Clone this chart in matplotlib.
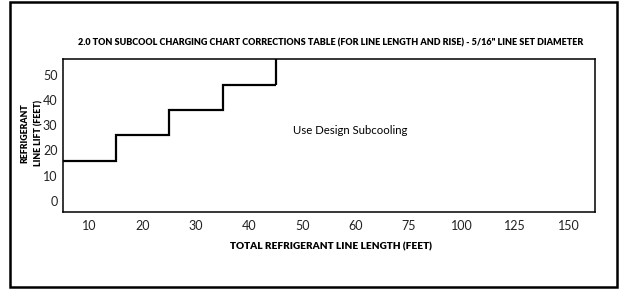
import matplotlib
matplotlib.use("Agg")
import matplotlib.pyplot as plt
from matplotlib.patches import Rectangle
import numpy as np

plt.rcParams['font.family'] = ['Lato', 'DejaVu Sans']

length_labels = ['10', '20', '30', '40', '50', '60', '75', '100', '125', '150']
lift_ticks = [0, 10, 20, 30, 40, 50]
# maximum lift per line length where correction applies (step boundary)
step_lengths = ['10', '20', '30', '40']
step_lifts = [16, 26, 36, 46]

title = '2.0 TON SUBCOOL CHARGING CHART CORRECTIONS TABLE (FOR LINE LENGTH AND RISE) - 5/16" LINE SET DIAMETER'

fig = plt.figure(figsize=(6.2, 2.89), dpi=100)
fig.patch.set_facecolor('white')
ax = fig.add_axes([63/620, 1 - 212/289, 532/620, 153/289])

ymin, ymax = -4.4, 56.3
x = np.arange(len(length_labels))
idx = [length_labels.index(s) for s in step_lengths]
edges = [i - 0.5 for i in idx] + [idx[-1] + 0.5]
ax.stairs(step_lifts, edges, baseline=None, color='black', lw=1.6)
ax.plot([edges[-1], edges[-1]], [step_lifts[-1], ymax], color='black', lw=1.6,
        solid_capstyle='butt')

ax.set_xlim(-0.5, len(length_labels) - 0.5)
ax.set_ylim(ymin, ymax)
ax.set_xticks(x)
ax.set_xticklabels(length_labels)
ax.set_yticks(lift_ticks)
ax.tick_params(length=0, labelsize=9, pad=6, colors='#222222')
ax.tick_params(axis='y', pad=4)
for s in ax.spines.values():
    s.set_linewidth(1.1)

ax.text(4.9, 27.8, 'Use Design Subcooling', ha='center', va='center', fontsize=8.2)

fig.text(331/620, 1 - 247/289, 'TOTAL REFRIGERANT LINE LENGTH (FEET)', ha='center', va='center',
         fontsize=7.2, fontweight='heavy')
fig.text(32/620, 1 - 133/289, 'REFRIGERANT\nLINE LIFT (FEET)', ha='center', va='center',
         rotation=90, fontsize=6.3, fontweight='heavy', linespacing=1.6)
fig.text(331/620, 1 - 43/289, title, ha='center', va='center', fontsize=6.5, fontweight='heavy')

fig.patches.append(Rectangle((9.5/620, 2/289), 607/620, 285/289, transform=fig.transFigure,
                             fill=False, edgecolor='black', lw=1.8))

fig.savefig('out.png', dpi=100)
